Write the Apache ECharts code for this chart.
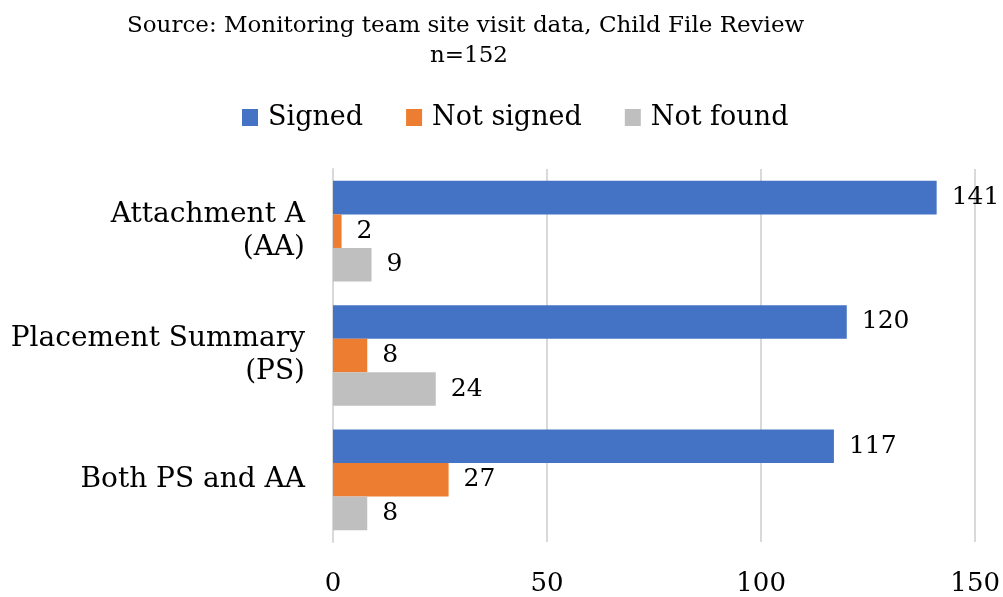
<!DOCTYPE html>
<html>
<head>
<meta charset="utf-8">
<script src="https://cdn.jsdelivr.net/npm/echarts@6/dist/echarts.min.js"></script>
<style>
  html, body { margin: 0; padding: 0; background: #fff; }
  #chart { width: 1003px; height: 597px; }
</style>
</head>
<body>
<div id="chart"></div>
<script>
const categories = ['Attachment A\n(AA)', 'Placement Summary\n(PS)', 'Both PS and AA']
const signed = [141, 120, 117]
const notSigned = [2, 8, 27]
const notFound = [9, 24, 8]
const seriesNames = ['Signed', 'Not signed', 'Not found']
const titleLine = 'Source: Monitoring team site visit data, Child File Review'
const subLine = 'n=152'

const font = 'DejaVu Serif'
const chart = echarts.init(document.getElementById('chart'))

function barSeries(name, data, color) {
    return {
        name: name,
        type: 'bar',
        data: data,
        barGap: '0%',
        barCategoryGap: '19%',
        itemStyle: { color: color },
        label: {
            show: true,
            position: 'right',
            distance: 15,
            color: '#000',
            fontFamily: font,
            fontSize: 25
        }
    }
}

const titleStyle = {
    fontFamily: font,
    fontWeight: 'normal',
    fontSize: 23,
    color: '#000'
}

chart.setOption({
    animation: false,
    textStyle: { fontFamily: font },
    title: [
        { text: titleLine, left: 122, top: 10, textStyle: titleStyle },
        { text: subLine, left: 425, top: 40, textStyle: titleStyle }
    ],
    legend: {
        data: seriesNames,
        top: 99,
        left: 237,
        itemWidth: 16,
        itemHeight: 17,
        itemGap: 43,
        icon: 'rect',
        textStyle: { fontFamily: font, fontSize: 27, color: '#000', padding: [0, 0, 0, 5] }
    },
    grid: { left: 333, right: 27, top: 169, bottom: 55 },
    xAxis: {
        type: 'value',
        min: 0,
        max: 150,
        interval: 50,
        axisLine: { show: false },
        axisTick: { show: false },
        splitLine: { lineStyle: { color: '#d9d9d9', width: 2 } },
        axisLabel: { fontFamily: font, fontSize: 26, color: '#000', margin: 29 }
    },
    yAxis: {
        type: 'category',
        data: categories,
        inverse: true,
        axisLine: { lineStyle: { color: '#d9d9d9', width: 2 } },
        axisTick: { length: 10, lineStyle: { color: '#d9d9d9', width: 2 } },
        axisLabel: {
            fontFamily: font,
            fontSize: 28,
            color: '#000',
            lineHeight: 33,
            margin: 28,
            align: 'right'
        }
    },
    series: [
        barSeries(seriesNames[0], signed, '#4472C4'),
        barSeries(seriesNames[1], notSigned, '#ED7D31'),
        barSeries(seriesNames[2], notFound, '#BFBFBF')
    ]
})
</script>
</body>
</html>
